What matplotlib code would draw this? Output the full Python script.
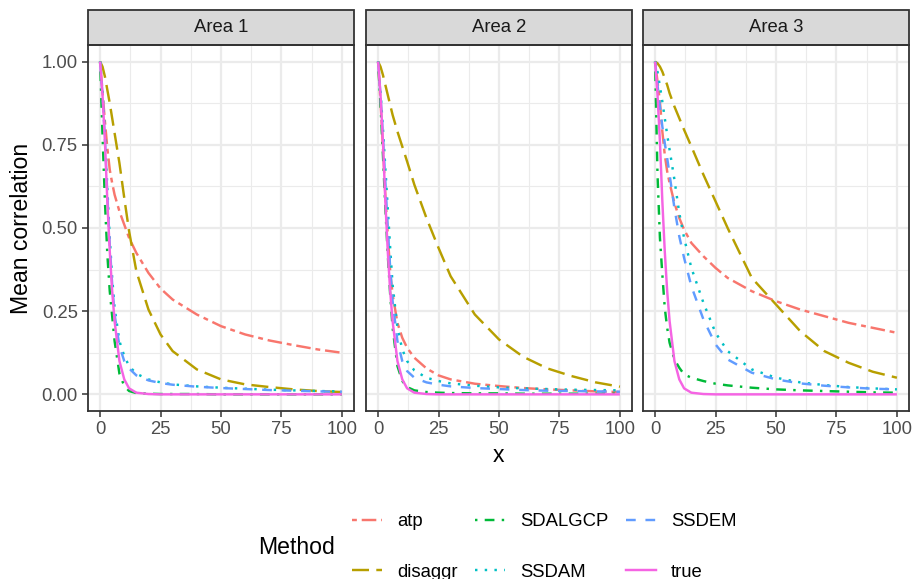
import matplotlib
matplotlib.use("Agg")
import matplotlib.pyplot as plt
from matplotlib.lines import Line2D
from matplotlib.patches import Rectangle

plt.rcParams['font.family'] = ['Liberation Sans', 'DejaVu Sans']

# ---------------- data ----------------
areas = ["Area 1", "Area 2", "Area 3"]
methods = ["atp", "disaggr", "SDALGCP", "SSDAM", "SSDEM", "true"]
x_pts = [0, 1, 2, 3, 4, 5, 6, 8, 10, 12, 15, 20, 25, 30, 40, 50, 60, 70, 80, 90, 100]

true_vals = [1, 0.9, 0.76, 0.58, 0.43, 0.31, 0.22, 0.10, 0.045, 0.018, 0.005, 0.001, 0, 0, 0, 0, 0, 0, 0, 0, 0]

atp_a1 = [1, 0.91, 0.82, 0.74, 0.675, 0.635, 0.60, 0.55, 0.51, 0.47, 0.425, 0.365, 0.318, 0.285, 0.24, 0.205, 0.18, 0.162, 0.148, 0.135, 0.125]
disaggr_a1 = [1, 0.985, 0.955, 0.915, 0.875, 0.83, 0.785, 0.695, 0.59, 0.49, 0.37, 0.255, 0.18, 0.13, 0.075, 0.045, 0.03, 0.022, 0.015, 0.01, 0.007]
sdalgcp_a1 = [1, 0.78, 0.58, 0.42, 0.31, 0.235, 0.16, 0.062, 0.025, 0.01, 0.004, 0.002, 0.001, 0.001, 0.001, 0, 0, 0, 0, 0, 0]
ssdam_a1 = [1, 0.91, 0.78, 0.62, 0.47, 0.35, 0.26, 0.16, 0.115, 0.085, 0.062, 0.045, 0.036, 0.03, 0.024, 0.02, 0.017, 0.014, 0.012, 0.01, 0.009]
ssdem_a1 = [1, 0.9, 0.77, 0.6, 0.45, 0.33, 0.24, 0.145, 0.1, 0.078, 0.057, 0.042, 0.034, 0.029, 0.023, 0.019, 0.016, 0.013, 0.011, 0.009, 0.008]

atp_a2 = [1, 0.88, 0.74, 0.6, 0.48, 0.37, 0.3, 0.215, 0.17, 0.14, 0.11, 0.078, 0.057, 0.045, 0.032, 0.025, 0.019, 0.015, 0.012, 0.009, 0.007]
disaggr_a2 = [1, 0.985, 0.96, 0.93, 0.9, 0.87, 0.84, 0.79, 0.745, 0.70, 0.63, 0.53, 0.44, 0.355, 0.24, 0.165, 0.113, 0.078, 0.055, 0.036, 0.023]
sdalgcp_a2 = [1, 0.87, 0.72, 0.56, 0.42, 0.3, 0.2, 0.085, 0.04, 0.022, 0.012, 0.007, 0.005, 0.004, 0.003, 0.003, 0.002, 0.002, 0.002, 0.002, 0.002]
ssdam_a2 = [1, 0.91, 0.8, 0.68, 0.56, 0.44, 0.33, 0.2, 0.135, 0.1, 0.072, 0.05, 0.04, 0.033, 0.026, 0.021, 0.018, 0.016, 0.014, 0.013, 0.012]
ssdem_a2 = [1, 0.9, 0.78, 0.64, 0.5, 0.38, 0.28, 0.16, 0.1, 0.07, 0.05, 0.036, 0.029, 0.024, 0.019, 0.016, 0.013, 0.011, 0.01, 0.009, 0.008]

atp_a3 = [1, 0.94, 0.88, 0.79, 0.72, 0.67, 0.635, 0.575, 0.53, 0.495, 0.455, 0.415, 0.38, 0.35, 0.31, 0.28, 0.255, 0.235, 0.215, 0.2, 0.185]
disaggr_a3 = [1, 0.995, 0.985, 0.97, 0.95, 0.93, 0.905, 0.865, 0.83, 0.795, 0.745, 0.66, 0.58, 0.5, 0.35, 0.27, 0.19, 0.13, 0.095, 0.068, 0.05]
sdalgcp_a3 = [1, 0.66, 0.47, 0.36, 0.26, 0.2, 0.155, 0.105, 0.08, 0.06, 0.05, 0.04, 0.032, 0.027, 0.02, 0.015, 0.012, 0.01, 0.008, 0.006, 0.005]
ssdam_a3 = [1, 0.97, 0.925, 0.88, 0.83, 0.78, 0.735, 0.645, 0.545, 0.47, 0.38, 0.275, 0.185, 0.13, 0.075, 0.05, 0.036, 0.028, 0.022, 0.018, 0.015]
ssdem_a3 = [1, 0.93, 0.865, 0.805, 0.755, 0.71, 0.66, 0.56, 0.475, 0.41, 0.325, 0.225, 0.15, 0.105, 0.065, 0.045, 0.033, 0.026, 0.021, 0.017, 0.015]

x_ticks = [0, 25, 50, 75, 100]
x_tick_labels = ["0", "25", "50", "75", "100"]
y_ticks = [0.0, 0.25, 0.5, 0.75, 1.0]
y_tick_labels = ["0.00", "0.25", "0.50", "0.75", "1.00"]

# ---------------- styles ----------------
colors = {"atp": "#F8766D", "disaggr": "#B79F00", "SDALGCP": "#00BA38",
          "SSDAM": "#00BFC4", "SSDEM": "#619CFF", "true": "#F564E3"}
styles = {"atp": (0, (2, 2, 6, 2)), "disaggr": (0, (7, 3)), "SDALGCP": (0, (1, 3, 4, 3)),
          "SSDAM": (0, (1, 3)), "SSDEM": (0, (4, 4)), "true": "solid"}

series = [
    {"atp": atp_a1, "disaggr": disaggr_a1, "SDALGCP": sdalgcp_a1, "SSDAM": ssdam_a1, "SSDEM": ssdem_a1, "true": true_vals},
    {"atp": atp_a2, "disaggr": disaggr_a2, "SDALGCP": sdalgcp_a2, "SSDAM": ssdam_a2, "SSDEM": ssdem_a2, "true": true_vals},
    {"atp": atp_a3, "disaggr": disaggr_a3, "SDALGCP": sdalgcp_a3, "SSDAM": ssdam_a3, "SSDEM": ssdem_a3, "true": true_vals},
]

W, H = 915, 579
fig = plt.figure(figsize=(W / 100, H / 100), dpi=100)

lefts = [88, 366, 643]
pw = 266
top_px, bot_px = 45, 411
strip_h = 35
LW = 1.75
tick_fs = 13.3
title_fs = 16.6

for i, area in enumerate(areas):
    ax = fig.add_axes([lefts[i] / W, 1 - bot_px / H, pw / W, (bot_px - top_px) / H])
    for m in methods:
        ax.plot(x_pts, series[i][m], color=colors[m], linestyle=styles[m], lw=LW,
                dash_capstyle='butt', solid_capstyle='butt')
    ax.set_xlim(-5, 105)
    ax.set_ylim(-0.05, 1.05)
    ax.set_xticks(x_ticks)
    ax.set_xticklabels(x_tick_labels)
    ax.set_xticks([12.5, 37.5, 62.5, 87.5], minor=True)
    ax.set_yticks(y_ticks)
    ax.set_yticks([0.125, 0.375, 0.625, 0.875], minor=True)
    ax.grid(which='major', color='#EBEBEB', lw=1.6)
    ax.grid(which='minor', color='#EBEBEB', lw=0.8)
    ax.set_axisbelow(True)
    ax.tick_params(which='minor', length=0)
    ax.tick_params(which='major', length=4.3, width=1.1, color='#333333',
                   labelcolor='#4D4D4D', labelsize=tick_fs, pad=3)
    if i == 0:
        ax.set_yticklabels(y_tick_labels)
    else:
        ax.set_yticklabels([])
        ax.tick_params(axis='y', which='major', length=0)
    for sp in ax.spines.values():
        sp.set_color('#333333')
        sp.set_linewidth(1.3)
    ax.add_patch(Rectangle((0, 1), 1, strip_h / (bot_px - top_px), transform=ax.transAxes,
                           clip_on=False, facecolor='#D9D9D9', edgecolor='#333333', lw=1.3))
    ax.text(0.5, 1 + strip_h / 2 / (bot_px - top_px), area, transform=ax.transAxes,
            ha='center', va='center', fontsize=tick_fs, color='#1A1A1A')

fig.text(22 / W, 1 - 228 / H, "Mean correlation", rotation=90, ha='center', va='center',
         fontsize=title_fs, color='black')
fig.text(498.5 / W, 1 - 456 / H, "x", ha='center', va='center', fontsize=title_fs, color='black')

handles = [Line2D([], [], color=colors[m], linestyle=styles[m], lw=LW) for m in methods]
fig.legend(handles, methods, loc='upper left', bbox_to_anchor=(352 / W, 1 - 513.5 / H),
           ncol=3, frameon=False, fontsize=tick_fs, handlelength=1.62, handletextpad=0.81,
           columnspacing=0.97, labelspacing=1.79, borderpad=0, borderaxespad=0)
fig.text(258 / W, 1 - 547 / H, "Method", ha='left', va='center', fontsize=title_fs, color='black')

fig.savefig("out.png", dpi=100)
